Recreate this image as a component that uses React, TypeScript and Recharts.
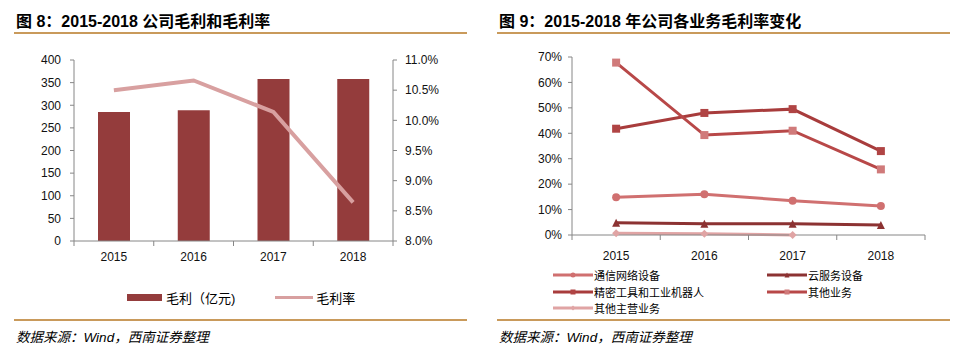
import React from 'react';
import { ComposedChart, LineChart, Bar, Line, XAxis, YAxis } from 'recharts';

const years = ['2015', '2016', '2017', '2018'];
const grossProfit = [285, 289, 358, 358];
const grossMargin = [10.5, 10.66, 10.14, 8.64];
const profitTicks = [0, 50, 100, 150, 200, 250, 300, 350, 400];
const marginTicks = [8, 8.5, 9, 9.5, 10, 10.5, 11];

const telecom = [14.8, 16.0, 13.5, 11.4];
const cloud = [4.8, 4.4, 4.4, 3.9];
const precision = [41.8, 48.0, 49.5, 33.0];
const otherBiz = [67.8, 39.3, 41.0, 25.8];
const otherMain = [0.7, 0.5, 0.0, null];
const pctTicks = [0, 10, 20, 30, 40, 50, 60, 70];

const FONT = '"Liberation Sans", "Noto Sans CJK SC", sans-serif';
const AXIS = '#868686';
const RULE = '#C99A5B';

const leftData = years.map((y, i) => ({ year: y, profit: grossProfit[i], margin: grossMargin[i] }));
const rightData = years.map((y, i) => ({
  year: y,
  telecom: telecom[i],
  cloud: cloud[i],
  precision: precision[i],
  otherBiz: otherBiz[i],
  otherMain: otherMain[i],
}));

const seriesR = [
  { key: 'telecom', name: '通信网络设备', stroke: '#D07070', fill: '#D07070', shape: 'circle' },
  { key: 'cloud', name: '云服务设备', stroke: '#8C3232', fill: '#8C3232', shape: 'triangle' },
  { key: 'precision', name: '精密工具和工业机器人', stroke: '#A83C3C', fill: '#B04444', shape: 'square' },
  { key: 'otherBiz', name: '其他业务', stroke: '#B84848', fill: '#D07A7A', shape: 'square' },
  { key: 'otherMain', name: '其他主营业务', stroke: '#E0A4A4', fill: '#E0A4A4', shape: 'diamond' },
];

function Marker({ cx, cy, shape, fill, size }: any) {
  if (cx == null || cy == null) return null;
  const s = size;
  if (shape === 'circle') return <circle cx={cx} cy={cy} r={s / 2} fill={fill} />;
  if (shape === 'square') return <rect x={cx - s / 2} y={cy - s / 2} width={s} height={s} fill={fill} />;
  if (shape === 'triangle')
    return <polygon points={`${cx},${cy - s / 2} ${cx + s / 2},${cy + s / 2} ${cx - s / 2},${cy + s / 2}`} fill={fill} />;
  return <polygon points={`${cx},${cy - s / 2} ${cx + s / 2},${cy} ${cx},${cy + s / 2} ${cx - s / 2},${cy}`} fill={fill} />;
}

// category labels plus tick marks on the band edges
function bandTick(plotWidth: number, labelDy: number) {
  const bw = plotWidth / years.length;
  return (props: any) => {
    const { x, y, payload, index } = props;
    return (
      <g>
        <line x1={x - bw / 2} x2={x - bw / 2} y1={y} y2={y + 5} stroke={AXIS} />
        {index === years.length - 1 && <line x1={x + bw / 2} x2={x + bw / 2} y1={y} y2={y + 5} stroke={AXIS} />}
        <text x={x} y={y + labelDy} textAnchor="middle" fontSize={12} fill="#111" fontFamily={FONT}>
          {payload.value}
        </text>
      </g>
    );
  };
}

const tickStyle = { fontSize: 12, fill: '#111', fontFamily: FONT };

function Panel({ left, title, children }: any) {
  return (
    <div style={{ position: 'absolute', left, top: 0, width: 453, height: 351 }}>
      <div style={{ position: 'absolute', left: 2, top: 8, fontSize: 16, fontWeight: 'bold', fontFamily: FONT, whiteSpace: 'nowrap' }}>
        {title}
      </div>
      <div style={{ position: 'absolute', left: 0, top: 32, width: 453, height: 2, background: RULE }} />
      <div style={{ position: 'absolute', left: 0, top: 319, width: 453, height: 2, background: RULE }} />
      <div
        style={{ position: 'absolute', left: 2, top: 326, fontSize: 13.5, fontStyle: 'italic', fontFamily: FONT, whiteSpace: 'nowrap' }}
      >
        数据来源：Wind，西南证券整理
      </div>
      {children}
    </div>
  );
}

export default function App() {
  return (
    <div style={{ position: 'fixed', left: 0, top: 0, width: 961, height: 351, background: '#fff', overflow: 'hidden' }}>
      <Panel left={14} title="图 8：2015-2018 公司毛利和毛利率" />
      <Panel left={497} title="图 9：2015-2018 年公司各业务毛利率变化" />

      <div style={{ position: 'absolute', left: 0, top: 40 }}>
        <ComposedChart width={480} height={235} data={leftData} margin={{ top: 20, right: 27, bottom: 4, left: 14 }}>
          <XAxis
            dataKey="year"
            xAxisId="x"
            stroke={AXIS}
            tickLine={false}
            tickSize={0}
            tickMargin={0}
            height={30}
            tick={bandTick(319, 20)}
          />
          <YAxis
            yAxisId="l"
            domain={[0, 400]}
            ticks={profitTicks}
            interval={0}
            width={60}
            stroke={AXIS}
            tickSize={4}
            tickMargin={9}
            tick={tickStyle}
          />
          <YAxis
            yAxisId="r"
            orientation="right"
            domain={[8, 11]}
            ticks={marginTicks}
            interval={0}
            width={60}
            stroke={AXIS}
            tickSize={4}
            tickMargin={8}
            tick={tickStyle}
            tickFormatter={(v: number) => v.toFixed(1) + '%'}
          />
          <Bar xAxisId="x" yAxisId="l" dataKey="profit" fill="#943C3C" barSize={32} isAnimationActive={false} />
          <Line
            xAxisId="x"
            yAxisId="r"
            dataKey="margin"
            type="linear"
            stroke="#D8A0A0"
            strokeWidth={4}
            dot={false}
            isAnimationActive={false}
          />
        </ComposedChart>
      </div>

      <div style={{ position: 'absolute', left: 127, top: 288, fontFamily: FONT, fontSize: 13, whiteSpace: 'nowrap' }}>
        <span style={{ display: 'inline-block', width: 35, height: 7, background: '#943C3C', verticalAlign: 'middle' }} />
        <span style={{ marginLeft: 4, verticalAlign: 'middle' }}>毛利（亿元)</span>
        <span
          style={{ display: 'inline-block', width: 38, height: 3, background: '#D8A0A0', verticalAlign: 'middle', marginLeft: 40 }}
        />
        <span style={{ marginLeft: 3, verticalAlign: 'middle' }}>毛利率</span>
      </div>

      <div style={{ position: 'absolute', left: 480, top: 40 }}>
        <LineChart width={481} height={235} data={rightData} margin={{ top: 17, right: 36, bottom: 10, left: 32 }}>
          <XAxis
            dataKey="year"
            scale="band"
            stroke={AXIS}
            tickLine={false}
            tickSize={0}
            tickMargin={0}
            height={30}
            tick={bandTick(353, 25)}
          />
          <YAxis
            domain={[0, 70]}
            ticks={pctTicks}
            interval={0}
            width={60}
            stroke={AXIS}
            tickSize={4}
            tickMargin={6}
            tick={tickStyle}
            tickFormatter={(v: number) => v + '%'}
          />
          {seriesR.map((s) => (
            <Line
              key={s.key}
              dataKey={s.key}
              type="linear"
              stroke={s.stroke}
              strokeWidth={3}
              dot={(p: any) => <Marker key={p.index} cx={p.cx} cy={p.cy} shape={s.shape} fill={s.fill} size={8} />}
              isAnimationActive={false}
            />
          ))}
        </LineChart>
      </div>

      {seriesR.map((s, i) => {
        const col = i % 2;
        const row = Math.floor(i / 2);
        return (
          <div
            key={s.key}
            style={{
              position: 'absolute',
              left: col === 0 ? 553 : 767,
              top: 268 + row * 16.5,
              height: 14,
              fontFamily: FONT,
              fontSize: 11,
              whiteSpace: 'nowrap',
              display: 'flex',
              alignItems: 'center',
            }}
          >
            <svg width={40} height={8}>
              <line x1={0} x2={40} y1={4} y2={4} stroke={s.stroke} strokeWidth={3} />
              <Marker cx={20} cy={4} shape={s.shape} fill={s.fill} size={5} />
            </svg>
            <span style={{ marginLeft: 1 }}>{s.name}</span>
          </div>
        );
      })}
    </div>
  );
}
